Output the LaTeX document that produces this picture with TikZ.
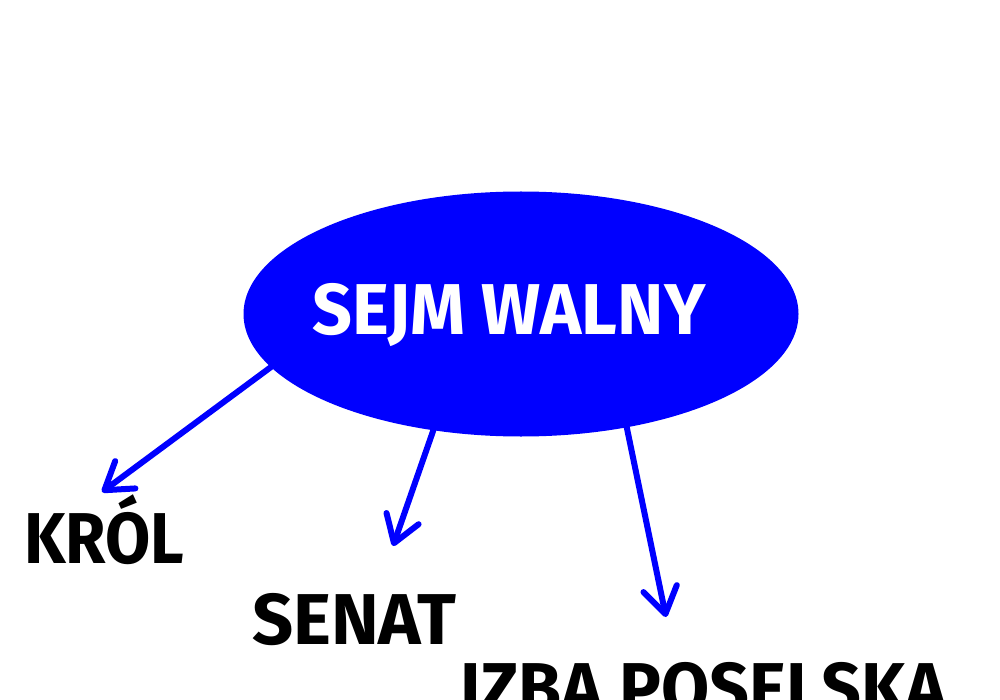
\documentclass[tikz,border=0pt]{standalone}
\usepackage{fontspec}
\setmainfont{Fira Sans}
\usetikzlibrary{shapes.geometric,arrows.meta}
\tikzset{
  bubble/.style={ellipse, fill=blue, draw=none, inner sep=0pt, minimum width=555pt, minimum height=245pt},
  bigtext/.style={font=\fontsize{72}{80}\selectfont\bfseries, inner sep=0pt, anchor=base west},
  conn/.style={draw=blue, line width=6pt, line cap=round,
    -{Straight Barb[length=26pt, width=34pt, round, line width=6pt]}}
}
\begin{document}
\begin{tikzpicture}[x=1pt,y=-1pt]
\useasboundingbox (0,0) rectangle (1000,700);
\clip (0,0) rectangle (1000,700);
\fill[white] (0,0) rectangle (1000,700);
\node[bubble] (sejm) at (521,314) {};
\node[bigtext, text=white] (sejmtext) at (312,334) {\scalebox{0.97}[1]{SEJM WALNY}};
\node[bigtext] (krol) at (24,563) {\scalebox{0.91}[1]{KRÓL}};
\node[bigtext] (senat) at (252,644) {SENAT};
\node[bigtext] (izba) at (460,713) {\scalebox{0.97}[1]{IZBA POSELSKA}};
\coordinate (tk) at (102,492);
\coordinate (ts) at (393,546);
\coordinate (ti) at (666,617);
\draw[conn] (sejm.192) -- (tk);
\draw[conn] (sejm.233) -- (ts);
\draw[conn] (sejm.313) -- (ti);
\end{tikzpicture}
\end{document}
